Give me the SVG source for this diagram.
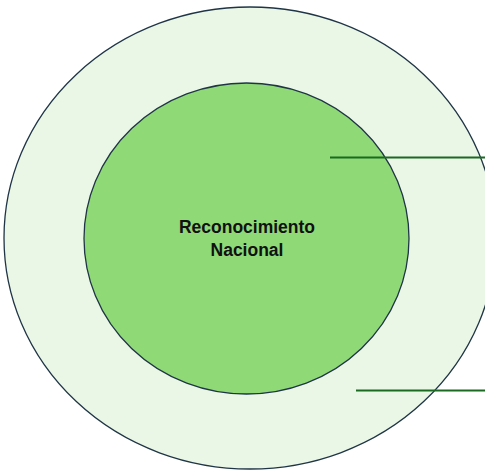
<svg xmlns="http://www.w3.org/2000/svg" width="485" height="470" viewBox="0 0 485 470">
<style>
.ring{stroke:#1f3546;stroke-width:1.3}
.lbl{font-family:"Liberation Sans",Arial,sans-serif;font-weight:bold;font-size:17.5px;fill:#111;text-anchor:middle}
.conn{stroke:#1b6a22;stroke-width:2.2;fill:none}
</style>
<rect width="485" height="470" fill="#ffffff"/>
<g id="outer">
<ellipse class="ring" cx="250" cy="238" rx="246" ry="231" fill="#ebf7e6"/>
</g>
<g id="inner">
<ellipse class="ring" cx="246.5" cy="238.5" rx="162.5" ry="155.5" fill="#8fd977"/>
<text class="lbl" x="247" y="233">Reconocimiento</text>
<text class="lbl" x="247" y="256">Nacional</text>
</g>
<g id="connectors">
<line class="conn" x1="330" y1="157.5" x2="485" y2="157.5"/>
<line class="conn" x1="356" y1="390.5" x2="485" y2="390.5"/>
</g>
</svg>
